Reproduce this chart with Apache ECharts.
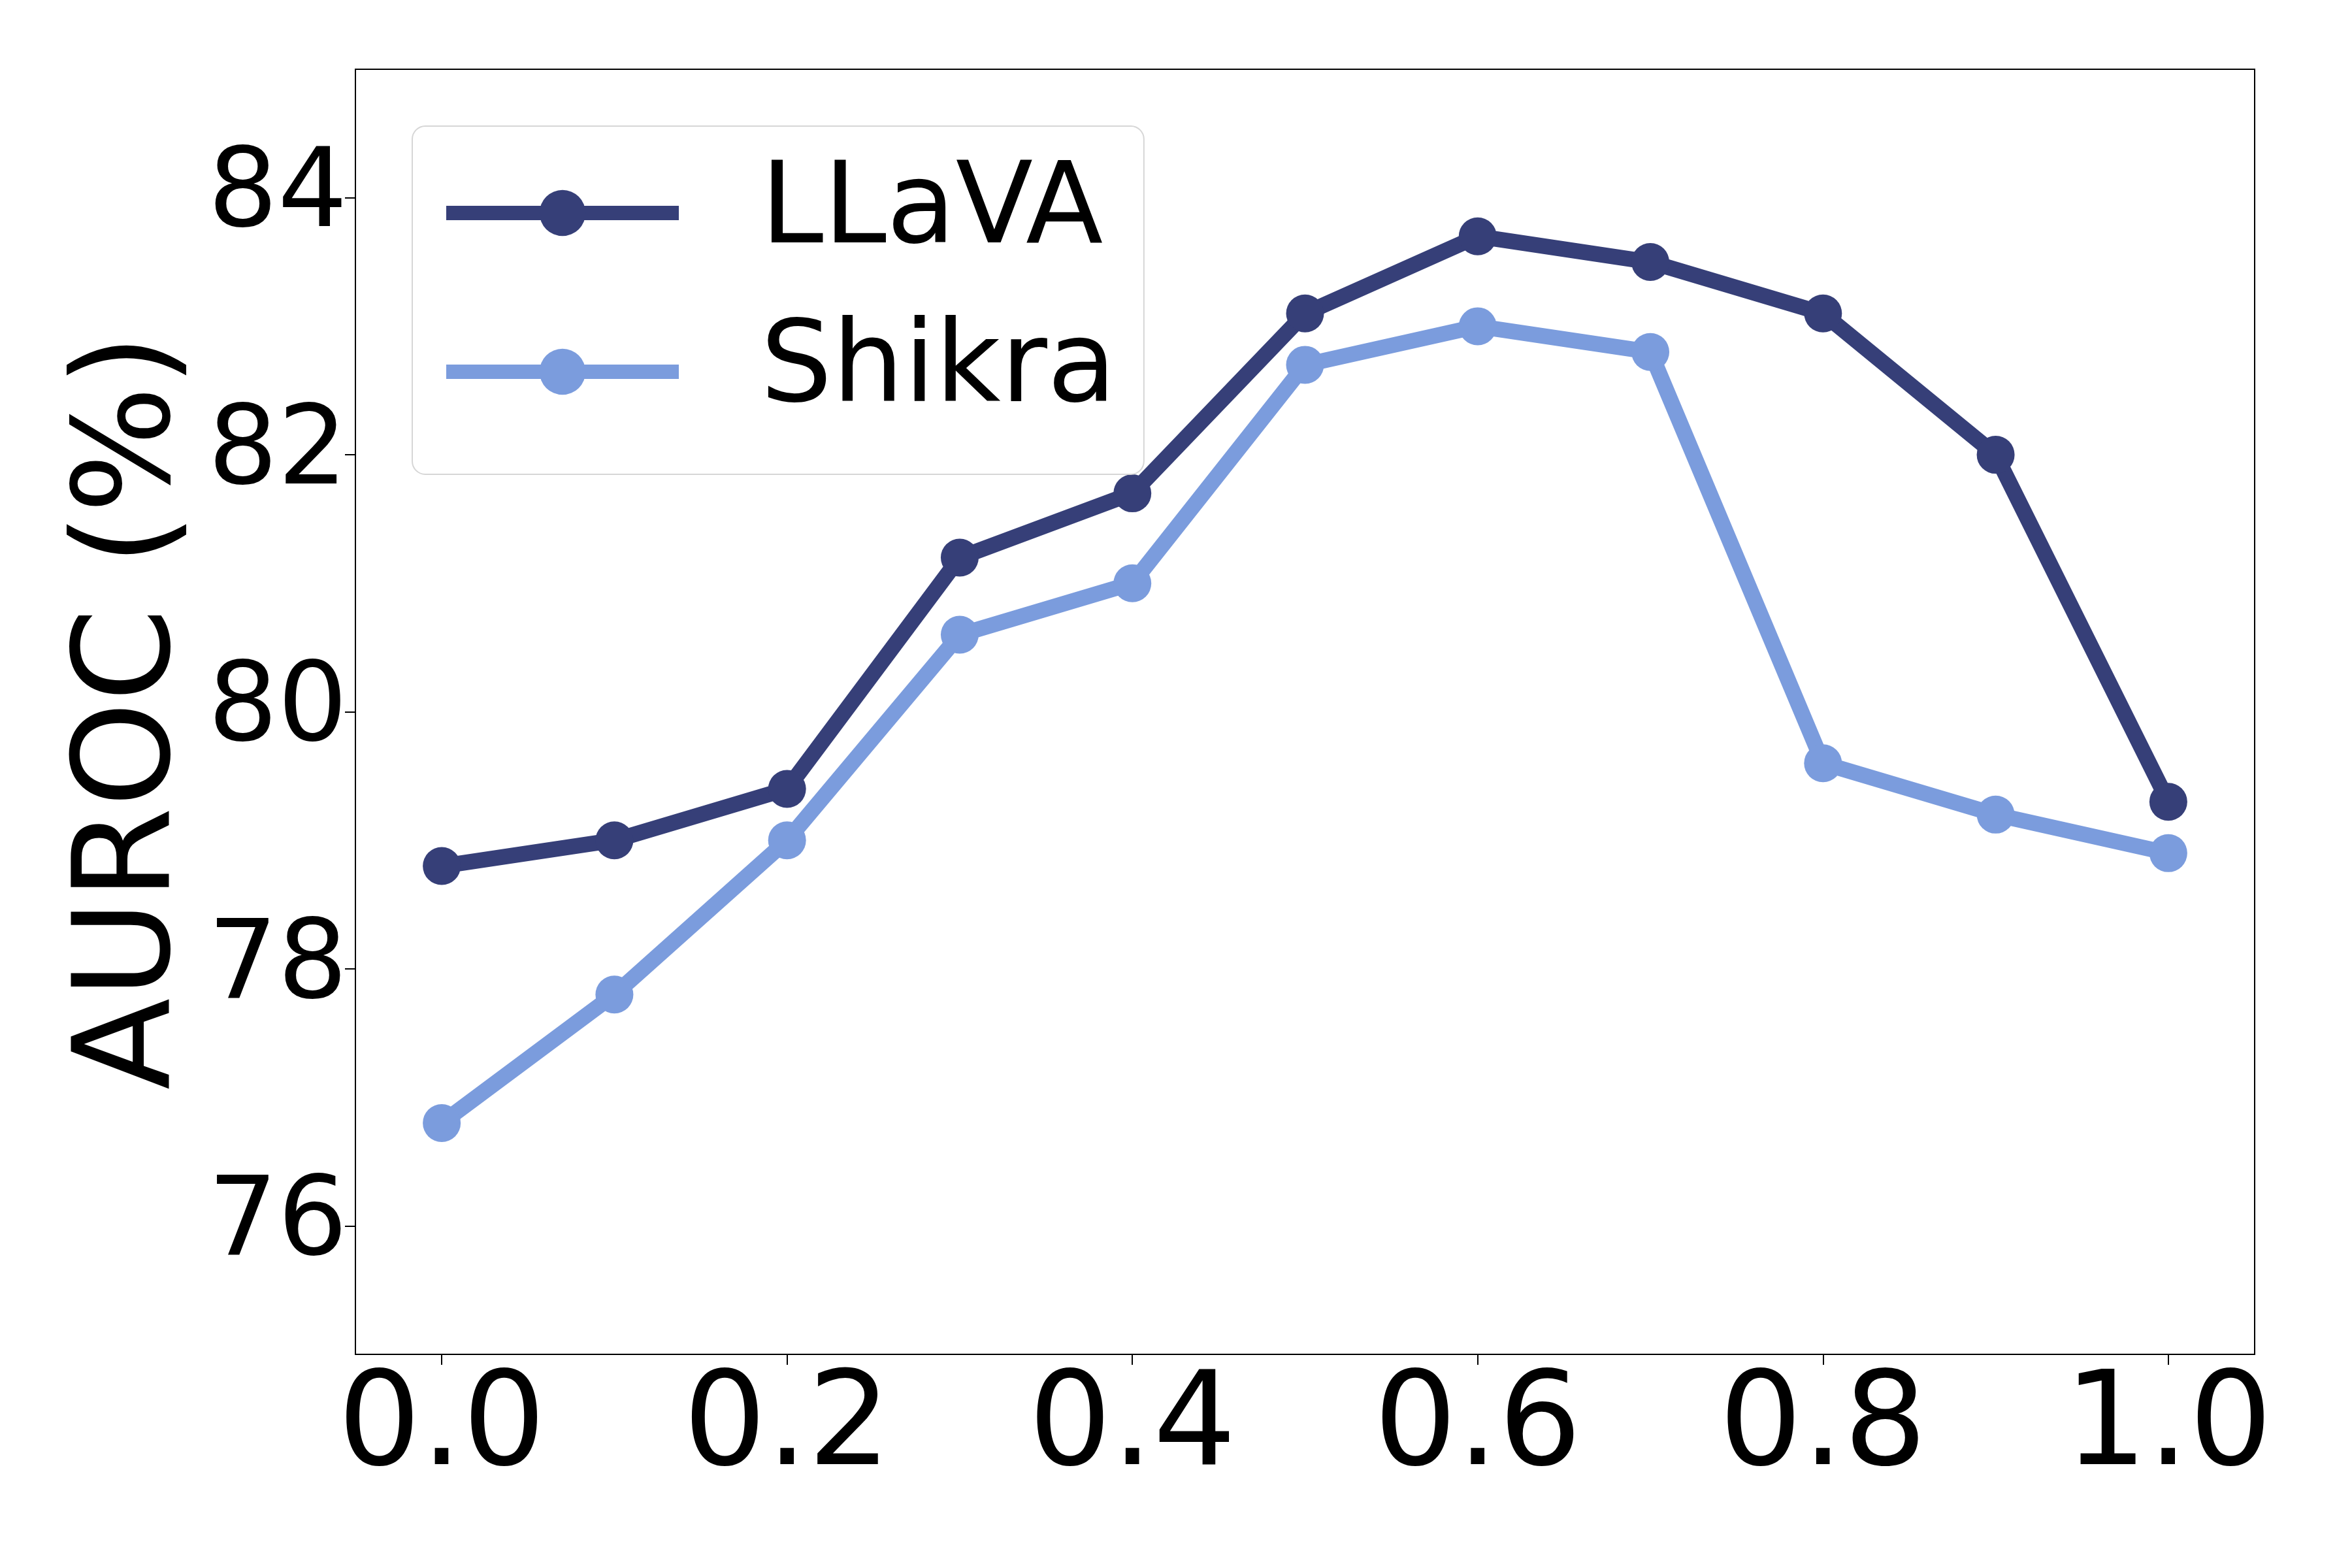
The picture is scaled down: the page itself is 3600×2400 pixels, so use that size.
<!DOCTYPE html>
<html>
<head>
<meta charset="utf-8">
<script src="https://cdn.jsdelivr.net/npm/echarts@6/dist/echarts.min.js"></script>
<style>
  html, body { margin: 0; padding: 0; background: #fff; }
  #container { width: 3600px; height: 2400px; }
</style>
</head>
<body>
<div id="container"></div>
<script>
// values
var ratios = [0.0, 0.1, 0.2, 0.3, 0.4, 0.5, 0.6, 0.7, 0.8, 0.9, 1.0];
var llava = [78.8, 79.0, 79.4, 81.2, 81.7, 83.1, 83.7, 83.5, 83.1, 82.0, 79.3];
var shikra = [76.8, 77.8, 79.0, 80.6, 81.0, 82.7, 83.0, 82.8, 79.6, 79.2, 78.9];
var xTicks = [0.0, 0.2, 0.4, 0.6, 0.8, 1.0];
var yTicks = [76, 78, 80, 82, 84];

var dom = document.getElementById("container");
var myChart = echarts.init(dom);

function pairs(ys) {
    return ratios.map(function (x, i) { return [x, ys[i]]; });
}

var font = "DejaVu Sans";
var option = {
    backgroundColor: '#fff',
    animation: false,
    grid: {
        left: 544, right: 149, top: 106, bottom: 327,
        show: true, borderColor: '#000', borderWidth: 2, backgroundColor: 'transparent'
    },
    legend: {
        left: 631, top: 193,
        orient: 'vertical',
        itemWidth: 356, itemHeight: 88, itemGap: 43,
        padding: [33, 42, 57, 41],
        backgroundColor: '#fff',
        borderColor: '#d6d6d6', borderWidth: 2, borderRadius: 20,
        lineStyle: { width: 22 },
        textStyle: { fontFamily: font, fontSize: 173, color: '#000', lineHeight: 200, padding: [0, 0, 0, 120] },
        data: ['LLaVA', 'Shikra']
    },
    xAxis: {
        type: 'value',
        min: -0.05, max: 1.05,
        axisLine: { onZero: false, lineStyle: { color: '#000', width: 2 } },
        axisTick: { show: true, length: 16, lineStyle: { color: '#000', width: 2 }, customValues: xTicks },
        axisLabel: {
            customValues: xTicks, margin: 16,
            fontFamily: font, fontSize: 200, color: '#000',
            formatter: function (v) { return v.toFixed(1); }
        },
        splitLine: { show: false }
    },
    yAxis: {
        type: 'value',
        min: 75, max: 85,
        name: 'AUROC (%)',
        nameLocation: 'middle',
        nameGap: 180,
        nameTextStyle: { fontFamily: font, fontSize: 205, color: '#000' },
        axisLine: { show: true, onZero: false, lineStyle: { color: '#000', width: 2 } },
        axisTick: { show: true, length: 16, lineStyle: { color: '#000', width: 2 }, customValues: yTicks },
        axisLabel: { customValues: yTicks, margin: 12, fontFamily: font, fontSize: 168, color: '#000' },
        splitLine: { show: false }
    },
    series: [
        {
            name: 'LLaVA', type: 'line', data: pairs(llava),
            symbol: 'circle', symbolSize: 58,
            itemStyle: { color: '#363f78' },
            lineStyle: { color: '#363f78', width: 24 }
        },
        {
            name: 'Shikra', type: 'line', data: pairs(shikra),
            symbol: 'circle', symbolSize: 58,
            itemStyle: { color: '#7b9cdd' },
            lineStyle: { color: '#7b9cdd', width: 24 }
        }
    ]
};

if (option && typeof option === "object") {
    myChart.setOption(option, true);
}
</script>
</body>
</html>
